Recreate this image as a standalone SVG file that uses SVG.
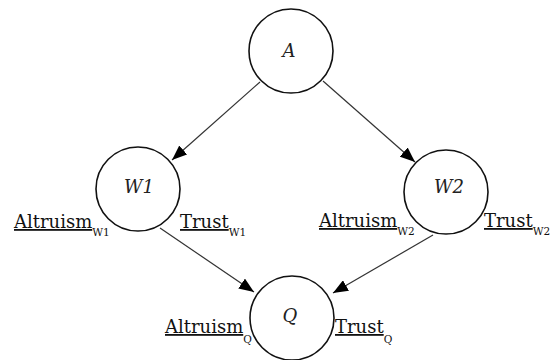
<svg xmlns="http://www.w3.org/2000/svg" width="551" height="360" viewBox="0 0 551 360">
<style>
.node circle{fill:#fff;stroke:#111;stroke-width:1.6}
.nlabel{font-family:"DejaVu Serif",serif;font-style:italic;font-size:18px;fill:#222;text-anchor:middle}
.lab{font-family:"DejaVu Serif",serif;font-size:18px;fill:#111}
.u{text-decoration:underline}
.sub{font-size:10.5px}
.edge{stroke:#333;stroke-width:1.2;fill:none;marker-end:url(#arr)}
</style>
<defs>
<marker id="arr" markerUnits="userSpaceOnUse" markerWidth="16" markerHeight="12" refX="15" refY="6" orient="auto">
<path d="M0,0 L15,6 L0,12 z" fill="#000"/>
</marker>
</defs>
<rect width="551" height="360" fill="#fff"/>
<g id="connectors">
<line class="edge" x1="260" y1="82" x2="172" y2="160"/>
<line class="edge" x1="323" y1="81" x2="415" y2="162"/>
<line class="edge" x1="160" y1="228" x2="254" y2="292"/>
<line class="edge" x1="433" y1="235" x2="333" y2="293"/>
</g>
<g id="A" class="node">
<circle cx="291" cy="51" r="42"/>
<text class="nlabel" x="289" y="57">A</text>
</g>
<g id="W1" class="node">
<circle cx="138" cy="189" r="42"/>
<text class="nlabel" x="139" y="193">W1</text>
<text class="lab" x="14" y="228"><tspan class="u">Altruism</tspan><tspan class="sub" dy="8">W1</tspan></text>
<text class="lab" x="180" y="228"><tspan class="u">Trust</tspan><tspan class="sub" dy="8">W1</tspan></text>
</g>
<g id="W2" class="node">
<circle cx="446" cy="192" r="42"/>
<text class="nlabel" x="449" y="193">W2</text>
<text class="lab" x="319" y="227"><tspan class="u">Altruism</tspan><tspan class="sub" dy="8">W2</tspan></text>
<text class="lab" x="484" y="227"><tspan class="u">Trust</tspan><tspan class="sub" dy="8" font-size="10">W2</tspan></text>
</g>
<g id="Q" class="node">
<circle cx="292" cy="318" r="42"/>
<text class="nlabel" x="290" y="322">Q</text>
<text class="lab" x="165" y="333"><tspan class="u">Altruism</tspan><tspan class="sub" dy="10">Q</tspan></text>
<text class="lab" x="335" y="333"><tspan class="u">Trust</tspan><tspan class="sub" dy="10">Q</tspan></text>
</g>
</svg>
